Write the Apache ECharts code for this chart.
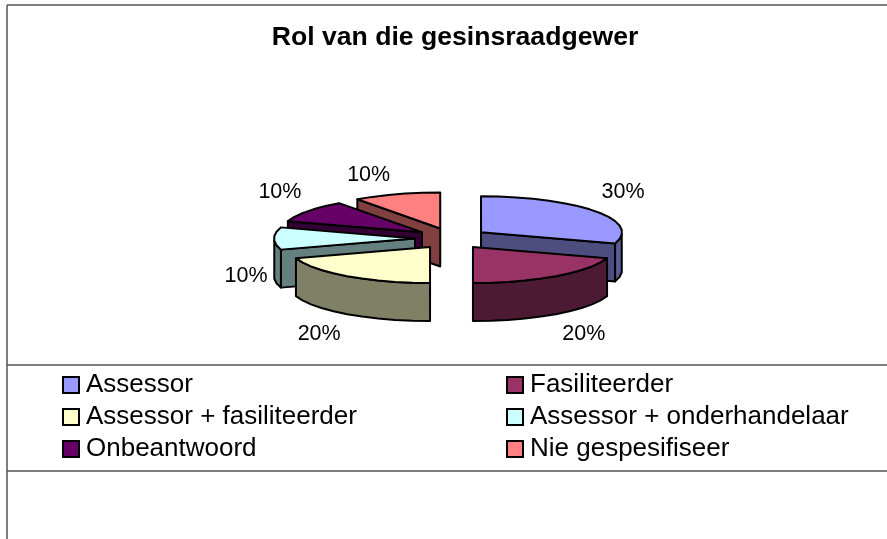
<!DOCTYPE html>
<html><head><meta charset="utf-8">
<style>html,body{margin:0;padding:0;background:#fff}#c{width:887px;height:539px}</style>
<script src="https://cdn.jsdelivr.net/npm/echarts@6/dist/echarts.min.js"></script>
</head><body><div id="c"></div>
<script>
const categories = ['Assessor','Fasiliteerder','Assessor + fasiliteerder','Assessor + onderhandelaar','Onbeantwoord','Nie gespesifiseer'];
const values = [30,20,20,10,10,10];
const topColors = ['#9999FF','#993366','#FFFFCC','#CCFFFF','#660066','#FF8080'];
const wallColors = ['#4D4D80','#4D1A33','#808066','#668080','#330033','#804040'];
const rimColors = ['#5C5C99','#4D1A33','#808066','#668080','#330033','#804040'];

const FONT = '"Liberation Sans", Arial, sans-serif';
const CX = 451.5, CY = 238.5, RX = 141, RY = 36, H = 38, EXPLODE = 36.5, EY = 0.29;
const total = values.reduce((a,b)=>a+b,0);
const starts = []; values.reduce((acc,v,i)=>{starts[i]=acc; return acc+v;},0);
const rad = v => v/total*Math.PI*2;

function wedgeRender(i){
  return function(params, api){
    const t0 = rad(starts[i]), t1 = rad(starts[i]+api.value(0)), mid=(t0+t1)/2;
    const cx = CX + EXPLODE*Math.sin(mid), cy = CY - EXPLODE*EY*Math.cos(mid);
    const P = t => [cx+RX*Math.sin(t), cy-RY*Math.cos(t)];
    const low = p => [p[0], p[1]+H];
    const steps = Math.max(2, Math.round((t1-t0)/(Math.PI/25)));
    const arc = []; for(let s=0;s<=steps;s++) arc.push(t0+(t1-t0)*s/steps);
    const line = {stroke:'#000', lineWidth:2, lineJoin:'round'};
    const kids = [];
    const wall = t => ({type:'polygon', shape:{points:[[cx,cy],P(t),low(P(t)),[cx,cy+H]]}, style:Object.assign({fill:wallColors[i]},line)});
    if(Math.sin(t0) < -1e-6) kids.push(wall(t0));
    if(Math.sin(t1) > 1e-6) kids.push(wall(t1));
    const front = arc.filter(t=>Math.cos(t) <= 1e-6);
    if(front.length>1){
      const pts = front.map(P).concat(front.slice().reverse().map(t=>low(P(t))));
      kids.push({type:'polygon', shape:{points:pts}, style:Object.assign({fill:rimColors[i]},line)});
    }
    kids.push({type:'polygon', shape:{points:[[cx,cy]].concat(arc.map(P))}, style:Object.assign({fill:topColors[i]},line)});
    const c = Math.cos(mid), s = Math.sin(mid), r = P(mid);
    const dy = c>0.01 ? -19 : (c<-0.01 ? H+20 : H);
    kids.push({type:'text', style:{text:api.value(0)+'%', x:r[0]+(s>0?1:-1)*28, y:r[1]+dy, align:'center', verticalAlign:'middle', font:'21.5px '+FONT, fill:'#000'}});
    return {type:'group', children:kids};
  };
}
const zs = [2,5,5,3,2,1]; // back wedges lowest
const series = categories.map((name,i)=>({
  type:'custom', name, coordinateSystem:'none', z:zs[i], silent:true, animation:false,
  itemStyle:{color:topColors[i]},
  renderItem:wedgeRender(i), data:[[values[i]]]
}));
const legendBase = {orient:'vertical', top:364, itemWidth:16, itemHeight:16, itemGap:0, icon:'rect', selectedMode:false,
  itemStyle:{borderColor:'#000', borderWidth:2},
  textStyle:{fontFamily:FONT, fontSize:26, lineHeight:20, color:'#000', padding:[0,0,12,2]}};
const chart = echarts.init(document.getElementById('c'), null, {renderer:'canvas'});
const gl = {stroke:'#555', lineWidth:1.5};
const line = (x1,y1,x2,y2)=>({type:'line', silent:true, shape:{x1,y1,x2,y2}, style:gl});
chart.setOption({
  animation:false,
  backgroundColor:'#fff',
  title:{text:'Rol van die gesinsraadgewer', left:450, top:19, textAlign:'center',
    textStyle:{fontFamily:FONT, fontWeight:'bold', fontSize:26.6, color:'#000'}},
  legend:[
    Object.assign({left:57, data:[categories[0],categories[2],categories[4]]},legendBase),
    Object.assign({left:501, data:[categories[1],categories[3],categories[5]]},legendBase)
  ],
  graphic:[line(7,5,887,5), line(7,5,7,539), line(7,365,887,365), line(7,471,887,471)],
  series
});
</script></body></html>
